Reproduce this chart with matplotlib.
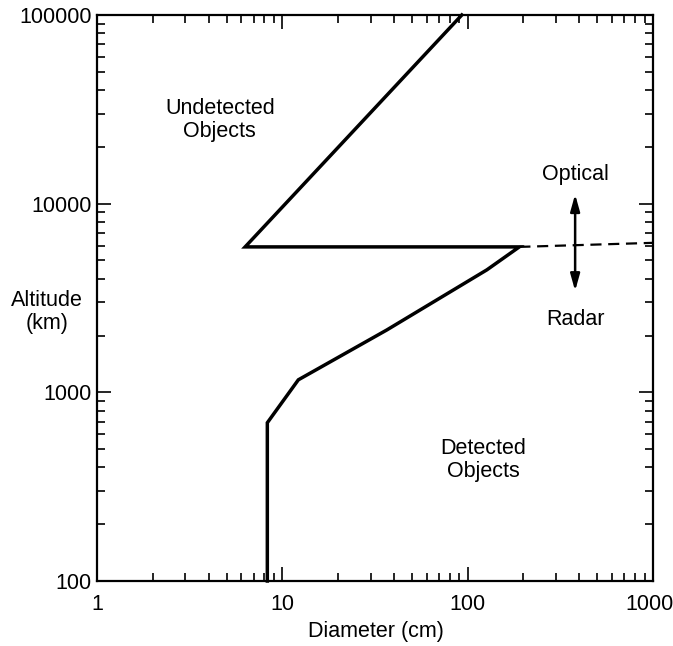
import numpy as np
import matplotlib
matplotlib.use("Agg")
import matplotlib.pyplot as plt
import matplotlib.transforms as mtransforms

plt.rcParams['font.family'] = ['Liberation Sans', 'DejaVu Sans']

# detection boundary
diameter_cm = [93, 6.3, 190, 127, 36.6, 12.2, 8.3, 8.3]
altitude_km = [100000, 5900, 5900, 4460, 2140, 1165, 690, 100]

# optical / radar split line
split_x = [190, 1000]
split_y = [5900, 6200]

arrow_x = 380
arrow_y = [3450, 11200]

xticks = [1, 10, 100, 1000]
yticks = [100, 1000, 10000, 100000]

fs = 15.5

fig = plt.figure(figsize=(6.73, 6.46), dpi=100)
ax = fig.add_axes([0.1441, 0.1006, 0.8262, 0.8762])

ax.plot(diameter_cm, altitude_km, color='black', lw=2.5, solid_joinstyle='miter', clip_on=False)
ax.plot(split_x, split_y, color='black', lw=1.6, ls=(0, (5, 3)))

ax.annotate('', xy=(arrow_x, arrow_y[1]), xytext=(arrow_x, arrow_y[0]),
            arrowprops=dict(arrowstyle='<|-|>,head_length=1.0,head_width=0.28',
                            color='black', lw=1.8, shrinkA=0, shrinkB=0))

ax.text(arrow_x, 14200, 'Optical', ha='center', va='center', fontsize=fs)
ax.text(arrow_x, 2420, 'Radar', ha='center', va='center', fontsize=fs)
ax.text(4.6, 27800, 'Undetected\nObjects', ha='center', va='center', fontsize=fs, linespacing=1.15)
ax.text(121, 438, 'Detected\nObjects', ha='center', va='center', fontsize=fs, linespacing=1.15)

ax.set_xscale('log')
ax.set_yscale('log')
ax.set_xlim(1, 1000)
ax.set_ylim(100, 100000)
ax.set_xticks(xticks)
ax.set_xticklabels([str(t) for t in xticks])
ax.set_yticks(yticks)
ax.set_yticklabels([str(t) for t in yticks])

ax.tick_params(which='both', direction='in', top=True, right=True, labelsize=fs, width=1.2)
ax.tick_params(which='major', length=10)
ax.tick_params(which='minor', length=6)
ax.tick_params(axis='x', which='major', pad=9)
ax.tick_params(axis='y', which='major', pad=4)
for s in ax.spines.values():
    s.set_linewidth(1.6)

# nudge the last x label so it stays inside the picture
last = ax.get_xticklabels()[-1]
last.set_transform(last.get_transform() + mtransforms.ScaledTranslation(-4 / 100, 0, fig.dpi_scale_trans))

ax.set_xlabel('Diameter (cm)', fontsize=fs)
ax.xaxis.set_label_coords(0.502, -0.071)
ax.set_ylabel('Altitude\n(km)', fontsize=fs, rotation=0, ha='center', va='center', linespacing=1.1)
ax.yaxis.set_label_coords(-0.09, 0.475)

fig.savefig('out.png', dpi=100)
